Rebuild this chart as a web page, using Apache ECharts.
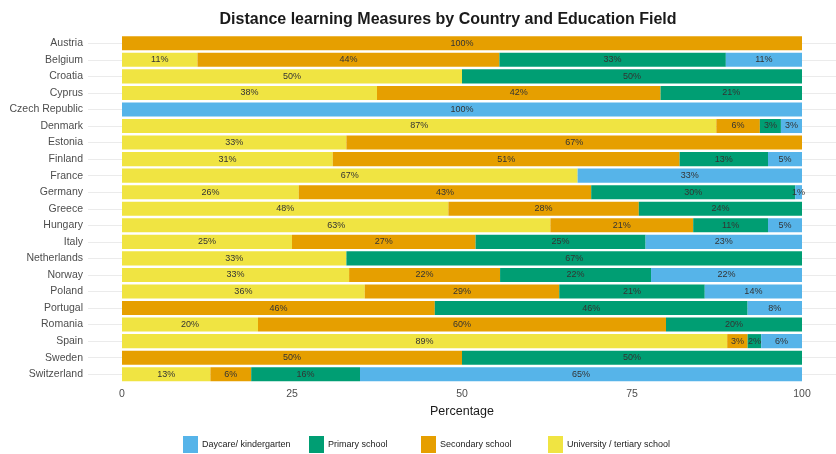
<!DOCTYPE html>
<html>
<head>
<meta charset="utf-8">
<script src="https://cdn.jsdelivr.net/npm/echarts@6/dist/echarts.min.js"></script>
<style>
  html, body { margin: 0; padding: 0; background: #ffffff; }
  #chart { width: 836px; height: 454px; }
</style>
</head>
<body>
<div id="chart"></div>
<script>
// Countries, top to bottom
const countries = [
  'Austria', 'Belgium', 'Croatia', 'Cyprus', 'Czech Republic', 'Denmark', 'Estonia',
  'Finland', 'France', 'Germany', 'Greece', 'Hungary', 'Italy', 'Netherlands',
  'Norway', 'Poland', 'Portugal', 'Romania', 'Spain', 'Sweden', 'Switzerland'
];

// Share of distance learning measures per education field (%)
const university = [null, 11.1, 50, 37.5, null, 87.4, 33, 31, 67, 26, 48, 63, 25, 33, 33.4, 35.7, null, 20, 89, null, 13];
const secondary  = [100, 44.4, null, 41.7, null, 6.4, 67, 51, null, 43, 28, 21, 27, null, 22.2, 28.6, 46, 60, 3, 50, 6];
const primary    = [null, 33.3, 50, 20.8, null, 3.1, null, 13, null, 30, 24, 11, 25, 67, 22.2, 21.4, 46, 20, 2, 50, 16];
const daycare    = [null, 11.2, null, null, 100, 3.1, null, 5, 33, 1, null, 5, 23, null, 22.2, 14.3, 8, null, 6, null, 65];

const xTicks = [0, 25, 50, 75, 100];

const fieldNames = {
  daycare: 'Daycare/ kindergarten',
  primary: 'Primary school',
  secondary: 'Secondary school',
  university: 'University / tertiary school'
};
const fieldColors = {
  daycare: '#56B4E9',
  primary: '#009E73',
  secondary: '#E69F00',
  university: '#F0E442'
};

function barSeries(key, values) {
  return {
    name: fieldNames[key],
    type: 'bar',
    stack: 'share',
    barWidth: '85%',
    data: values,
    itemStyle: { color: fieldColors[key] },
    label: {
      show: true,
      position: 'inside',
      color: '#333333',
      fontSize: 9,
      fontFamily: 'Liberation Sans, Arial, sans-serif',
      formatter: p => (p.value == null ? '' : Math.round(p.value) + '%')
    },
    emphasis: { disabled: true }
  };
}

// One legend block per field so each key sits at its own spot along the bottom
const legendOrder = ['daycare', 'primary', 'secondary', 'university'];
const legendLeft = [178, 304, 416, 543];
const legends = legendOrder.map((key, i) => ({
  data: [fieldNames[key]],
  left: legendLeft[i],
  top: 431,
  itemWidth: 15,
  itemHeight: 17,
  icon: 'rect',
  selectedMode: false,
  textStyle: { fontSize: 9, color: '#222222', padding: [3, 0, 0, -1] }
}));

const chart = echarts.init(document.getElementById('chart'), null, { renderer: 'canvas' });
chart.setOption({
  animation: false,
  backgroundColor: '#ffffff',
  textStyle: { fontFamily: 'Liberation Sans, Arial, sans-serif' },
  title: {
    text: 'Distance learning Measures by Country and Education Field',
    left: 443,
    top: 7,
    textAlign: 'center',
    textStyle: { fontSize: 16, fontWeight: 'bold', color: '#1a1a1a' }
  },
  legend: legends,
  grid: { left: 88, right: 0, top: 35, bottom: 71.5, containLabel: false },
  xAxis: {
    type: 'value',
    min: -5,
    max: 105,
    name: 'Percentage',
    nameLocation: 'middle',
    nameGap: 23,
    nameTextStyle: { fontSize: 12.5, color: '#1a1a1a' },
    axisLine: { show: false },
    axisTick: { show: false },
    splitLine: { show: false },
    axisLabel: {
      customValues: xTicks,
      margin: 6,
      fontSize: 10.5,
      color: '#4d4d4d'
    }
  },
  yAxis: {
    type: 'category',
    data: countries,
    inverse: true,
    axisLine: { show: false },
    axisTick: { show: false, alignWithLabel: true },
    axisLabel: { fontSize: 10.5, color: '#4d4d4d', margin: 5 },
    splitLine: { show: true, alignWithLabel: true, lineStyle: { color: '#ebebeb', width: 1 } }
  },
  series: [
    barSeries('university', university),
    barSeries('secondary', secondary),
    barSeries('primary', primary),
    barSeries('daycare', daycare)
  ]
});
</script>
</body>
</html>
